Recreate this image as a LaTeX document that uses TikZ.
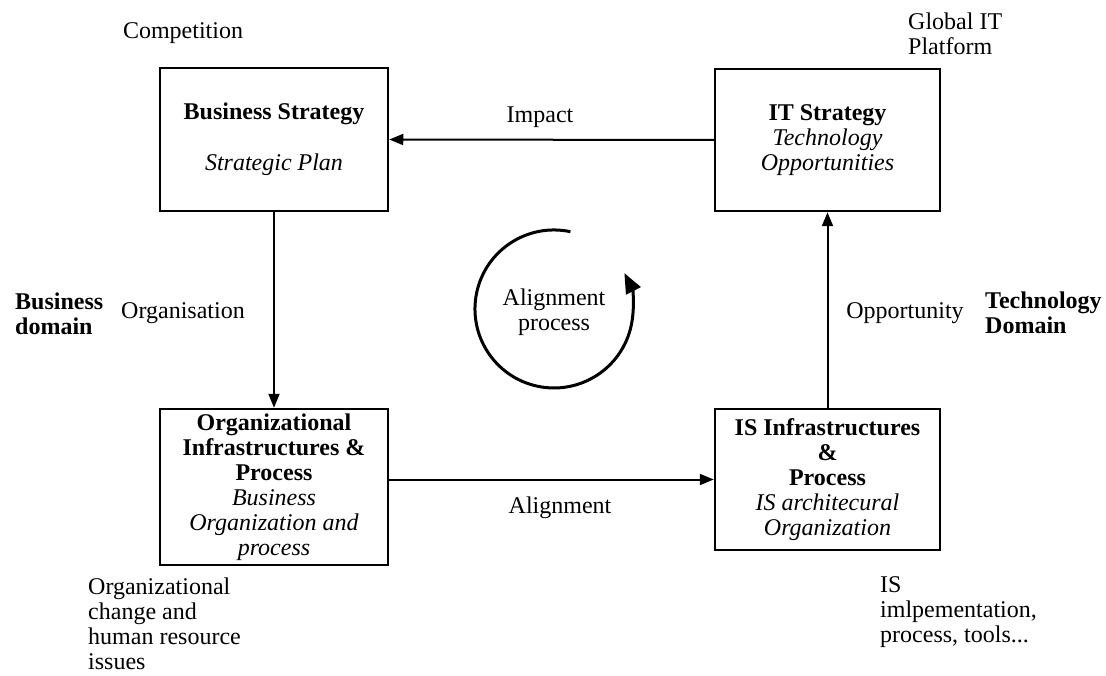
\documentclass[tikz,border=0pt]{standalone}
\usepackage{fontspec}
\setmainfont{Liberation Serif}
\usetikzlibrary{arrows.meta}

\begin{document}
\begin{tikzpicture}[x=1pt,y=1pt,
  every node/.style={inner sep=0pt, font=\fontsize{24}{25}\selectfont},
  box/.style={draw, line width=2.5pt, align=center},
  arr/.style={line width=2pt, -{Triangle[length=14pt,width=11pt]}},
  side/.style={align=left, anchor=west}]
\useasboundingbox (0,0) rectangle (1106,-676);
\node [box, minimum width=228, minimum height=143] (bstrat) at (274,-139.5)
  {\textbf{Business Strategy}\\[26pt]\textit{Strategic Plan}};
\node [box, minimum width=225, minimum height=142] (itstrat) at (827.5,-140)
  {\textbf{IT Strategy}\\\textit{Technology}\\\textit{Opportunities}};
\node [box, minimum width=228, minimum height=156] (orginf) at (274,-487)
  {\textbf{Organizational}\\\textbf{Infrastructures \&}\\\textbf{Process}\\
   \textit{Business}\\\textit{Organization and}\\\textit{process}};
\node [box, minimum width=225, minimum height=141] (isinf) at (827.5,-479.5)
  {\textbf{IS Infrastructures}\\\textbf{\&}\\\textbf{Process}\\
   \textit{IS architecural}\\\textit{Organization}};
\draw [arr] (itstrat.west) -- (bstrat.east);
\draw [arr] (bstrat.south) -- (orginf.north);
\draw [arr] (orginf.east |- isinf.west) -- (isinf.west);
\draw [arr] (isinf.north) -- (itstrat.south);
\node (impact) at (540,-117) {Impact};
\node (organis) at (183,-313) {Organisation};
\node (align) at (560,-508) {Alignment};
\node (oppor) at (905,-313) {Opportunity};
\node (compet) at (183,-33) {Competition};
\node [side] (global) at (908,-34) {Global IT\\Platform};
\node [side] (busdom) at (15,-314) {\textbf{Business}\\\textbf{domain}};
\node [side] (techdom) at (985,-313) {\textbf{Technology}\\\textbf{Domain}};
\node [side] (orgchg) at (88,-624) {Organizational\\change and\\human resource\\issues};
\node [side] (isimpl) at (880,-612) {IS\\imlpementation,\\process, tools...};
\node [align=center] (alproc) at (554,-312) {Alignment\\process};
\draw [line width=3pt, -{Triangle[length=20pt,width=16pt]}]
  (570.4,-231.7) arc [start angle=78, end angle=387, radius=79];
\end{tikzpicture}
\end{document}
